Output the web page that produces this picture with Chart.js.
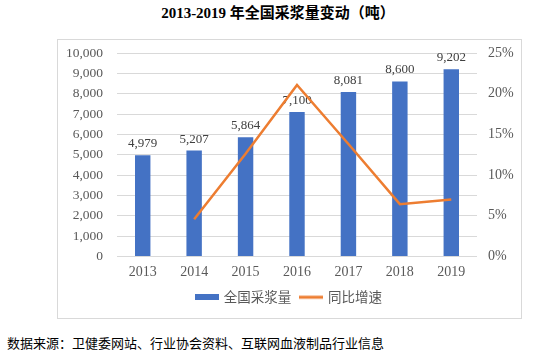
<!DOCTYPE html>
<html><head><meta charset="utf-8">
<script src="https://cdn.jsdelivr.net/npm/chart.js@4"></script>
<style>
body{margin:0;width:541px;height:354px;background:#fff;position:relative;overflow:hidden}
#title{position:absolute;left:0;top:3px;width:556px;text-align:center;font:bold 15px "Liberation Serif","Noto Sans CJK SC";color:#000;line-height:20px;white-space:nowrap}
#box{position:absolute;left:57px;top:39px;width:463px;height:278px;border:1px solid #d9d9d9}
#note{position:absolute;left:7px;top:334px;font:13px "Noto Sans CJK SC";color:#000;line-height:18px;white-space:nowrap}
canvas{display:block}
</style></head>
<body>
<div id="title">2013-2019 年全国采浆量变动（吨）</div>
<div id="box"><canvas id="c" width="463" height="278"></canvas></div>
<div id="note">数据来源：卫健委网站、行业协会资料、互联网血液制品行业信息</div>
<script>
const years = ['2013','2014','2015','2016','2017','2018','2019'];
const plasmaVolume = [4979, 5207, 5864, 7100, 8081, 8600, 9202];
const growthRate = [null, 4.58, 12.62, 21.08, 13.82, 6.43, 7.00];
const leftTickLabels = ['0','1,000','2,000','3,000','4,000','5,000','6,000','7,000','8,000','9,000','10,000'];
const rightTickLabels = ['0%','5%','10%','15%','20%','25%'];
const seriesNames = ['全国采浆量','同比增速'];

const BLUE = '#4472C4', ORANGE = '#ED7D31', GREY = '#595959';

function makeImg(color, h){
  const c = document.createElement('canvas');
  c.width = 24; c.height = 6;
  const x = c.getContext('2d');
  x.fillStyle = color;
  x.fillRect(0, (6 - h) / 2, 24, h);
  return c;
}
const barImg = makeImg(BLUE, 6);
const lineImg = makeImg(ORANGE, 3);

const barLabels = {
  id: 'barLabels',
  afterDatasetDraw(chart, args){
    if (args.index !== 0) return;
    const ctx = chart.ctx;
    ctx.save();
    ctx.font = '13px "Liberation Serif"';
    ctx.fillStyle = '#404040';
    ctx.textAlign = 'center';
    ctx.textBaseline = 'alphabetic';
    args.meta.data.forEach((el, i) => {
      ctx.fillText(plasmaVolume[i].toLocaleString('en-US'), el.x, el.y - 8);
    });
    ctx.restore();
  }
};

function noPad(s){ s.paddingTop = 0; s.paddingBottom = 0; s.paddingLeft = 0; s.paddingRight = 0; }

new Chart(document.getElementById('c'), {
  data: {
    labels: years,
    datasets: [
      {type:'bar', label: seriesNames[0], data: plasmaVolume, backgroundColor: BLUE, yAxisID:'y', order:1,
       barPercentage:0.3, categoryPercentage:1.0},
      {type:'line', label: seriesNames[1], data: growthRate, borderColor: ORANGE, backgroundColor: ORANGE,
       borderWidth:2.5, pointRadius:0, tension:0, yAxisID:'y1', order:0}
    ]
  },
  options: {
    responsive:false, animation:false,
    layout:{padding:{top:13, bottom:4, left:0, right:0}},
    plugins:{
      tooltip:{enabled:false},
      legend:{
        position:'bottom',
        labels:{
          usePointStyle:true, pointStyleWidth:20, padding:10,
          color: GREY, font:{family:'"Noto Sans CJK SC"', size:13.5},
          generateLabels(){
            return [
              {text: seriesNames[0], pointStyle: barImg, fillStyle: BLUE, strokeStyle:'rgba(0,0,0,0)', lineWidth:0, datasetIndex:0, hidden:false, fontColor: GREY},
              {text: seriesNames[1], pointStyle: lineImg, fillStyle: ORANGE, strokeStyle:'rgba(0,0,0,0)', lineWidth:0, datasetIndex:1, hidden:false, fontColor: GREY}
            ];
          }
        }
      }
    },
    scales:{
      x:{
        grid:{display:false, drawTicks:false}, border:{display:false},
        ticks:{padding:7, color: GREY, font:{family:'"Liberation Serif"', size:14}, maxRotation:0, autoSkip:false},
        afterFit(s){ s.height = 24; noPad(s); }
      },
      y:{
        position:'left', min:0, max:10000,
        grid:{color:'#d9d9d9', lineWidth:1, drawTicks:false}, border:{display:false},
        ticks:{stepSize:1000, padding:14, color: GREY, font:{family:'"Liberation Serif"', size:13.5},
               callback:(v,i)=>leftTickLabels[i]},
        afterFit(s){ s.width = 59; noPad(s); }
      },
      y1:{
        position:'right', min:0, max:25,
        grid:{display:false, drawTicks:false}, border:{display:false},
        ticks:{stepSize:5, padding:11, color: GREY, font:{family:'"Liberation Serif"', size:14},
               callback:(v,i)=>rightTickLabels[i]},
        afterFit(s){ s.width = 44; noPad(s); }
      }
    }
  },
  plugins:[barLabels]
});
</script>
</body></html>
